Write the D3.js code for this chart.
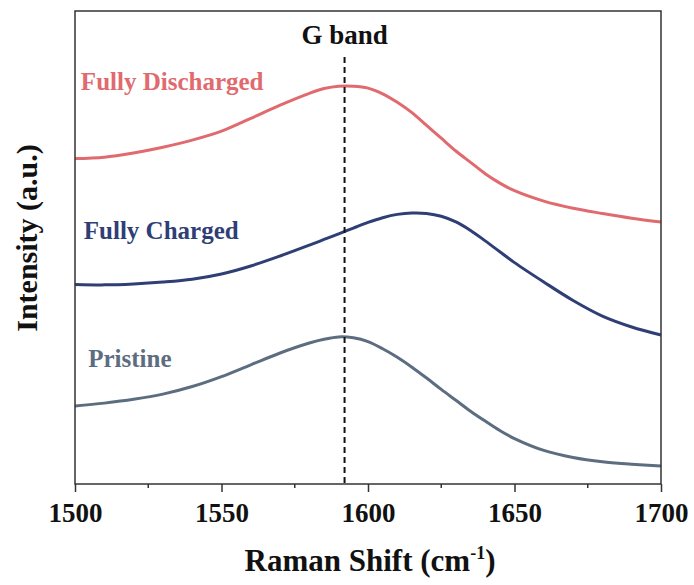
<!DOCTYPE html>
<html>
<head>
<meta charset="utf-8">
<script src="https://cdn.jsdelivr.net/npm/d3@7"></script>
<style>
  html, body { margin: 0; padding: 0; background: #fff; }
  svg { display: block; font-family: "Liberation Serif", "Times New Roman", serif; font-weight: bold; }
</style>
</head>
<body>
<svg id="chart" width="694" height="585"></svg>
<script>
/* Raman spectra – G band, three states (offset curves) */

const shift = [1500, 1510, 1520, 1530, 1540, 1550, 1560, 1570, 1580, 1585, 1590, 1595, 1600,
  1605, 1610, 1615, 1620, 1625, 1630, 1635, 1640, 1645, 1650, 1660, 1670, 1680, 1690, 1700];

const discharged = [68.8, 69.1, 70.0, 71.2, 72.7, 74.6, 77.3, 80.1, 82.6, 83.6, 84.1, 84.1, 83.7,
  82.5, 80.7, 78.5, 75.8, 73.1, 70.4, 68.0, 65.6, 63.6, 62.0, 59.8, 58.3, 57.2, 56.2, 55.4];
const charged = [42.2, 42.1, 42.3, 42.7, 43.3, 44.4, 46.1, 48.2, 50.5, 51.7, 52.9, 54.1, 55.3,
  56.3, 57.0, 57.3, 57.2, 56.6, 55.4, 53.6, 51.4, 49.1, 46.8, 42.7, 38.8, 35.5, 33.2, 31.5];
const pristine = [16.5, 17.1, 17.9, 19.0, 20.6, 22.7, 25.2, 27.7, 29.8, 30.6, 31.1, 30.9, 30.1,
  28.6, 26.8, 24.7, 22.4, 20.0, 17.7, 15.4, 13.3, 11.3, 9.6, 7.1, 5.6, 4.7, 4.2, 3.8];

const xTicks = [1500, 1550, 1600, 1650, 1700];
const xMinor = [1525, 1575, 1625, 1675];
const gBand = 1592;

const series = [
  { name: "Fully Discharged", values: discharged, color: "#e06a6e", labelAt: [1502, 83.3] },
  { name: "Fully Charged", values: charged, color: "#2f3f76", labelAt: [1503, 51.8] },
  { name: "Pristine", values: pristine, color: "#5d6d80", labelAt: [1504.5, 24.7] },
];

const margin = { top: 11, right: 33, bottom: 101, left: 75 };
const W = 694, H = 585;
const innerW = W - margin.left - margin.right;
const innerH = H - margin.top - margin.bottom;

const svg = d3.select("#chart");
const g = svg.append("g").attr("transform", `translate(${margin.left},${margin.top})`);

const x = d3.scaleLinear().domain([1500, 1700]).range([0, innerW]);
const y = d3.scaleLinear().domain([0, 100]).range([innerH, 0]);

// curves
const line = d3.line()
  .x((d, i) => x(shift[i]))
  .y(d => y(d))
  .curve(d3.curveCatmullRom.alpha(0.5));

for (const s of series) {
  g.append("path")
    .datum(s.values)
    .attr("fill", "none")
    .attr("stroke", s.color)
    .attr("stroke-width", 3)
    .attr("stroke-linejoin", "round")
    .attr("d", line);

  g.append("text")
    .attr("x", x(s.labelAt[0]))
    .attr("y", y(s.labelAt[1]))
    .attr("fill", s.color)
    .style("font-size", "25px")
    .text(s.name);
}

// G band marker
g.append("line")
  .attr("x1", x(gBand)).attr("x2", x(gBand))
  .attr("y1", 46).attr("y2", innerH)
  .attr("stroke", "#111")
  .attr("stroke-width", 2)
  .attr("stroke-dasharray", "6,4");

g.append("text")
  .attr("x", x(gBand))
  .attr("y", 33)
  .attr("text-anchor", "middle")
  .attr("fill", "#111")
  .style("font-size", "27px")
  .text("G band");

// x axis
const xAxis = d3.axisBottom(x).tickValues(xTicks).tickSize(8).tickFormat(d3.format("d"));
const gx = g.append("g").attr("transform", `translate(0,${innerH})`).call(xAxis);
gx.select(".domain").remove();
gx.selectAll(".tick line").attr("stroke", "#333").attr("stroke-width", 1.5);
gx.selectAll(".tick text")
  .attr("y", 38)
  .attr("dy", 0)
  .attr("fill", "#111")
  .style("font-size", "27px")
  .style("font-family", "'Liberation Serif', serif")
  .style("font-weight", "bold");

g.append("g")
  .selectAll("line")
  .data(xMinor)
  .join("line")
  .attr("x1", d => x(d)).attr("x2", d => x(d))
  .attr("y1", innerH).attr("y2", innerH + 4)
  .attr("stroke", "#333").attr("stroke-width", 1.5);

// frame
g.append("rect")
  .attr("width", innerW)
  .attr("height", innerH)
  .attr("fill", "none")
  .attr("stroke", "#333")
  .attr("stroke-width", 1.5);

// axis titles
const xt = svg.append("text")
  .attr("x", 370)
  .attr("y", 571)
  .attr("text-anchor", "middle")
  .attr("fill", "#111")
  .style("font-size", "31px");
xt.append("tspan").text("Raman Shift (cm");
xt.append("tspan").attr("dy", -12).style("font-size", "18px").text("-1");
xt.append("tspan").attr("dy", 12).text(")");

svg.append("text")
  .attr("transform", `translate(37,${margin.top + 227}) rotate(-90)`)
  .attr("text-anchor", "middle")
  .attr("fill", "#111")
  .style("font-size", "30px")
  .text("Intensity (a.u.)");
</script>
</body>
</html>
